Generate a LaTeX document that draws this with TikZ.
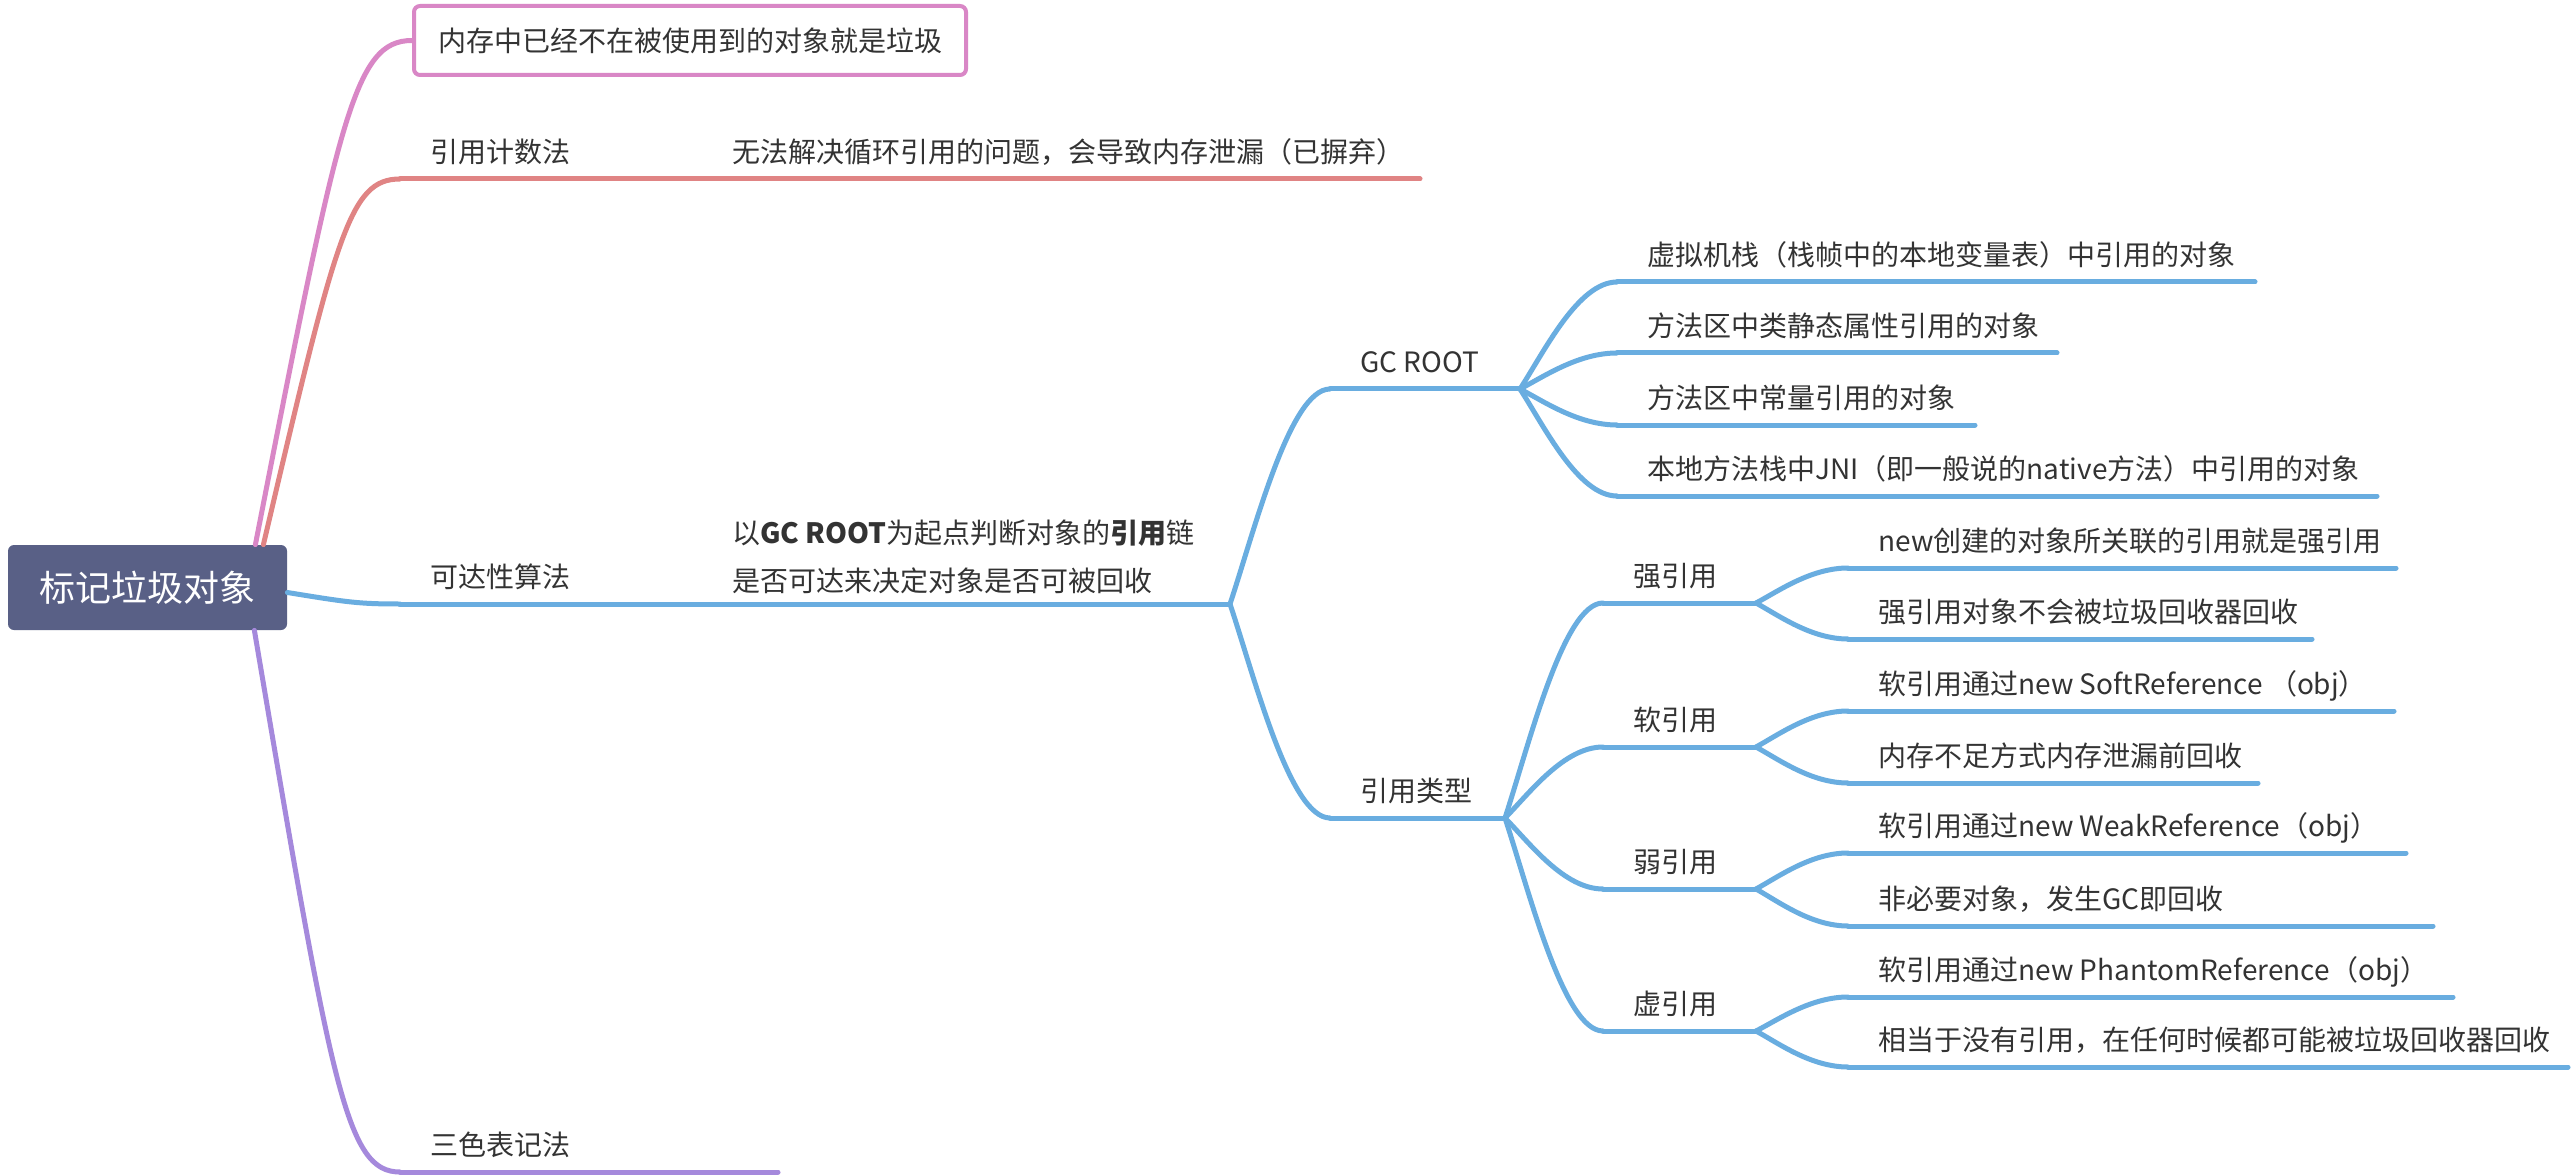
\documentclass[tikz,border=0pt]{standalone}
\usepackage{fontspec}
\setmainfont{Noto Sans CJK SC}
\usetikzlibrary{calc}
\newcommand{\Unit}{0.5pt}
\newcommand{\Edge}{2.5pt}
\definecolor{rootfill}{HTML}{596086}
\definecolor{ink}{HTML}{333333}
\definecolor{pinkline}{HTML}{D987C6}
\definecolor{redline}{HTML}{E08484}
\definecolor{blueline}{HTML}{69ADE0}
\definecolor{purpleline}{HTML}{A589DC}

% a topic: its text, and the line it sits on, from (name-s) to (name-e)
\newcommand{\Topic}[5]{%
  \node[topic] (#1) at ({#3+30},{#2-27}) {#5};
  \coordinate (#1-s) at (#3,#2);
  \coordinate (#1-e) at (#4,#2);
  \draw[twig] (#1-s) -- (#1-e);
}

\begin{document}
\begin{tikzpicture}[x=\Unit,y=-\Unit, line join=round, line cap=round,
  topic/.style={anchor=west, inner sep=0pt, text=ink, font=\fontsize{14}{17}\selectfont,
    text height=12pt, text depth=1.5pt},
  remark/.style={anchor=west, inner sep=0pt, text=ink, font=\fontsize{14}{24}\selectfont, align=left},
  rootbox/.style={fill=rootfill, text=white, rounded corners=3pt, inner sep=0pt,
    minimum width=279*\Unit, minimum height=85*\Unit, font=\fontsize{18}{20}\selectfont},
  notebox/.style={draw=pinkline, line width=2pt, fill=white, text=ink, rounded corners=3pt,
    inner sep=0pt, minimum width=552*\Unit, minimum height=69*\Unit, font=\fontsize{14}{17}\selectfont},
  twig/.style={line width=\Edge},
  branch/.style={to path={let \p1=(\tikztostart), \p2=(\tikztotarget) in
    .. controls ({\x1+0.25*(\x2-\x1)},{\y1+0.35*(\y2-\y1)}) and ({\x1+0.6*(\x2-\x1)},\y2) .. (\tikztotarget)}},
  trunk/.style={to path={let \p1=(\tikztostart), \p2=(\tikztotarget) in
    .. controls ({\x1+0.535*(\x2-\x1)},{\y1+0.85*(\y2-\y1)}) and ({\x1+0.63*(\x2-\x1)},\y2) .. (\tikztotarget)}}]

  \useasboundingbox (0,0) rectangle (2574,1176);
  \fill[white] (0,0) rectangle (2574,1176);

  % ---- the central topic --------------------------------------------------
  \node[rootbox] (root) at (147.5,587.5) {标记垃圾对象};
  \coordinate (root-n1) at ($(root.north east)+(-32,0)$);
  \coordinate (root-n2) at ($(root.north east)+(-24,0)$);
  \coordinate (root-e1) at ($(root.east)+(0,5)$);
  \coordinate (root-s1) at ($(root.south east)+(-33,0)$);

  % ---- the boxed note on top ----------------------------------------------
  \node[notebox] (note) at (690,40.5) {内存中已经不在被使用到的对象就是垃圾};
  \draw[pinkline, twig, trunk] (root-n1) to (note.west);

  % ---- reference counting -------------------------------------------------
  \begin{scope}[redline]
    \Topic{count}{179}{400}{585}{引用计数法}
    \Topic{countnote}{179}{702}{1420}{无法解决循环引用的问题，会导致内存泄漏（已摒弃）}
    \draw[twig, trunk] (root-n2) to (count-s);
    \draw[twig, branch] (count-e) to (countnote-s);
  \end{scope}

  % ---- reachability, the big blue branch ---------------------------------
  \begin{scope}[blueline]
    \Topic{reach}{604}{400}{585}{可达性算法}
    \draw[twig, trunk] (root-e1) to (reach-s);
    \node[remark] (reachnote) at (732,556.5) {以\textbf{GC ROOT}为起点判断对象的\textbf{引用}链\\是否可达来决定对象是否可被回收};
    \coordinate (reachnote-s) at (702,604);
    \coordinate (reachnote-e) at (1230,604);
    \draw[twig] (reachnote-s) -- (reachnote-e);
    \draw[twig, branch] (reach-e) to (reachnote-s);

    \Topic{gc}{389}{1330}{1520}{GC ROOT}
    \Topic{kind}{818}{1330}{1505}{引用类型}
    \draw[twig, branch] (reachnote-e) to (gc-s);
    \draw[twig, branch] (reachnote-e) to (kind-s);

    \foreach \nm/\yy/\ex/\tx in {
      gc1/282/2255/{虚拟机栈（栈帧中的本地变量表）中引用的对象},
      gc2/353/2057/{方法区中类静态属性引用的对象},
      gc3/425/1975/{方法区中常量引用的对象},
      gc4/496/2377/{本地方法栈中JNI（即一般说的native方法）中引用的对象}} {
      \Topic{\nm}{\yy}{1617}{\ex}{\tx}
      \draw[twig, branch] (gc-e) to (\nm-s);
    }

    \foreach \nm/\yy/\tx in {strong/603/强引用, soft/747/软引用, weak/889/弱引用, phantom/1031/虚引用} {
      \Topic{\nm}{\yy}{1603}{1756}{\tx}
      \draw[twig, branch] (kind-e) to (\nm-s);
    }

    \foreach \up/\nm/\yy/\ex/\tx in {
      strong/st1/568/2396/{new创建的对象所关联的引用就是强引用},
      strong/st2/639/2312/{强引用对象不会被垃圾回收器回收},
      soft/so1/711/2394/{软引用通过new SoftReference （obj）},
      soft/so2/783/2258/{内存不足方式内存泄漏前回收},
      weak/we1/853/2406/{软引用通过new WeakReference（obj）},
      weak/we2/926/2433/{非必要对象，发生GC即回收},
      phantom/ph1/997/2453/{软引用通过new PhantomReference（obj）},
      phantom/ph2/1067/2568/{相当于没有引用，在任何时候都可能被垃圾回收器回收}} {
      \Topic{\nm}{\yy}{1848}{\ex}{\tx}
      \draw[twig, branch] (\up-e) to (\nm-s);
    }
  \end{scope}

  % ---- tri-colour marking -------------------------------------------------
  \begin{scope}[purpleline]
    \Topic{tri}{1172}{400}{778}{三色表记法}
    \draw[twig, trunk] (root-s1) to (tri-s);
  \end{scope}

\end{tikzpicture}
\end{document}
